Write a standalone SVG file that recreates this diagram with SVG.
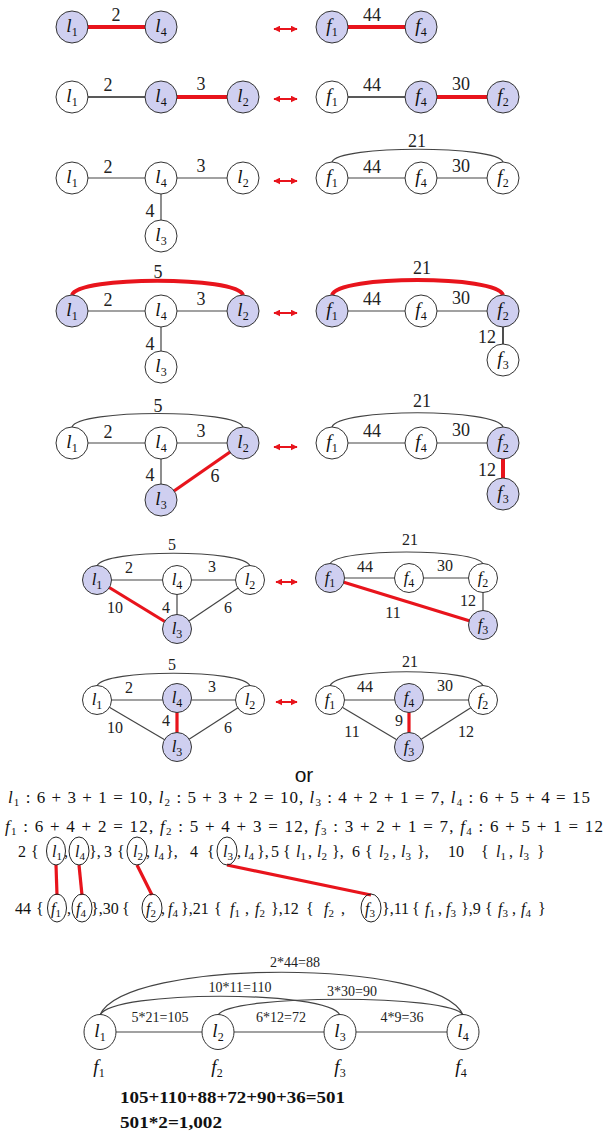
<svg xmlns="http://www.w3.org/2000/svg" width="607" height="1145" viewBox="0 0 607 1145">
<style>
.n{fill:#fff;stroke:#333;stroke-width:1}
.s{fill:#cfcff0}
.t{font-family:"Liberation Serif",serif;font-style:italic;font-size:19px;text-anchor:middle;fill:#111}
.t2{font-family:"Liberation Serif",serif;font-style:italic;font-size:17px;text-anchor:middle;fill:#111}
.sub{font-style:normal;font-size:12px}
.lb{font-family:"Liberation Serif",serif;font-size:18px;text-anchor:middle;fill:#222}
.lb2{font-family:"Liberation Serif",serif;font-size:16px;text-anchor:middle;fill:#222}
.lb3{font-family:"Liberation Serif",serif;font-size:14px;text-anchor:middle;fill:#222}
.e{stroke:#444;stroke-width:1.2;fill:none}
.k{stroke:#222;stroke-width:1.6;fill:none}
.r{stroke:#e8141c;stroke-width:4;fill:none}
.r3{stroke:#e8141c;stroke-width:3.2;fill:none}
.ar{stroke:#e8141c;stroke-width:2;fill:none}
.m{font-family:"Liberation Serif",serif;font-size:17px;fill:#111}
.m2{font-family:"Liberation Serif",serif;font-size:16px;fill:#111}
.i{font-style:italic}
.sb{font-size:11px}
.el{fill:none;stroke:#222;stroke-width:1}
.or{font-family:"Liberation Sans",sans-serif;font-size:21px;text-anchor:middle;fill:#111}
.b{font-family:"Liberation Serif",serif;font-weight:bold;font-size:16px;fill:#111}
</style>
<defs>
<marker id="ah" viewBox="0 0 10 10" refX="9" refY="5" markerWidth="7" markerHeight="7" markerUnits="userSpaceOnUse" orient="auto-start-reverse"><path d="M0,0 L10,5 L0,10 z" fill="#e8141c"/></marker>
</defs>

<g id="connectors">
<line class="r" x1="72" y1="27" x2="161" y2="27"/>
<line class="r" x1="332" y1="27" x2="421" y2="27"/>
<path class="ar" d="M274 29 H297" marker-start="url(#ah)" marker-end="url(#ah)"/>
<line class="k" x1="72" y1="97" x2="161" y2="97"/>
<line class="r" x1="161" y1="97" x2="243" y2="97"/>
<line class="k" x1="332" y1="97" x2="421" y2="97"/>
<line class="r" x1="421" y1="97" x2="503" y2="97"/>
<path class="ar" d="M274 99 H297" marker-start="url(#ah)" marker-end="url(#ah)"/>
<line class="e" x1="72" y1="178" x2="243" y2="178"/>
<line class="e" x1="161" y1="178" x2="161" y2="236"/>
<line class="e" x1="332" y1="178" x2="503" y2="178"/>
<path class="e" d="M332 162 C338 145 497 145 503 162"/>
<path class="ar" d="M274 181 H297" marker-start="url(#ah)" marker-end="url(#ah)"/>
<line class="e" x1="72" y1="311" x2="243" y2="311"/>
<line class="e" x1="161" y1="311" x2="161" y2="367"/>
<path class="r" d="M72 295 C78 276 237 276 243 295"/>
<line class="e" x1="332" y1="311" x2="503" y2="311"/>
<line class="k" x1="503" y1="311" x2="503" y2="360"/>
<path class="r" d="M332 295 C338 275 497 275 503 295"/>
<path class="ar" d="M274 313 H297" marker-start="url(#ah)" marker-end="url(#ah)"/>
<line class="e" x1="72" y1="443" x2="243" y2="443"/>
<line class="e" x1="161" y1="443" x2="161" y2="500"/>
<path class="e" d="M72 427 C78 409 237 409 243 427"/>
<line class="r3" x1="161" y1="500" x2="243" y2="443"/>
<line class="e" x1="332" y1="443" x2="503" y2="443"/>
<path class="e" d="M332 427 C338 408 497 408 503 427"/>
<line class="r" x1="503" y1="443" x2="503" y2="494"/>
<path class="ar" d="M274 447 H297" marker-start="url(#ah)" marker-end="url(#ah)"/>
<line class="e" x1="97" y1="580" x2="250" y2="580"/>
<line class="e" x1="177" y1="580" x2="177" y2="629"/>
<line class="e" x1="177" y1="629" x2="250" y2="580"/>
<path class="e" d="M97 566 C103 549 244 549 250 566"/>
<line class="r3" x1="97" y1="580" x2="177" y2="629"/>
<line class="e" x1="330" y1="578" x2="483" y2="578"/>
<line class="e" x1="483" y1="578" x2="483" y2="625"/>
<path class="e" d="M330 564 C336 548 477 548 483 564"/>
<line class="r3" x1="330" y1="578" x2="483" y2="625"/>
<path class="ar" d="M276 582 H297" marker-start="url(#ah)" marker-end="url(#ah)"/>
<line class="e" x1="97" y1="700" x2="250" y2="700"/>
<line class="e" x1="97" y1="700" x2="177" y2="747"/>
<line class="e" x1="250" y1="700" x2="177" y2="747"/>
<path class="e" d="M97 686 C103 669 244 669 250 686"/>
<line class="r3" x1="177" y1="698" x2="177" y2="747"/>
<line class="e" x1="330" y1="700" x2="483" y2="700"/>
<line class="e" x1="330" y1="700" x2="409" y2="747"/>
<line class="e" x1="483" y1="700" x2="409" y2="747"/>
<path class="e" d="M330 686 C336 667 477 667 483 686"/>
<line class="r3" x1="409" y1="698" x2="409" y2="747"/>
<path class="ar" d="M276 702 H297" marker-start="url(#ah)" marker-end="url(#ah)"/>
<line class="r3" x1="56" y1="865" x2="57" y2="895"/>
<line class="r3" x1="79" y1="865" x2="82" y2="895"/>
<line class="r3" x1="137" y1="865" x2="152" y2="895"/>
<line class="r3" x1="227" y1="865" x2="371" y2="895"/>
<line class="e" x1="100" y1="1032" x2="463" y2="1032"/>
<path class="e" d="M100 1015 C125 958 438 958 463 1015"/>
<path class="e" d="M100 1015 C113 990 328 990 340 1015"/>
<path class="e" d="M218 1015 C230 994 451 994 463 1015"/>
</g>

<g id="row1">
<circle class="n s" cx="72" cy="27" r="16"/><text class="t" x="72" y="32">l<tspan class="sub" dy="4">1</tspan></text>
<circle class="n s" cx="161" cy="27" r="16"/><text class="t" x="161" y="32">l<tspan class="sub" dy="4">4</tspan></text>
<circle class="n s" cx="332" cy="27" r="16"/><text class="t" x="332" y="32">f<tspan class="sub" dy="4">1</tspan></text>
<circle class="n s" cx="421" cy="27" r="16"/><text class="t" x="421" y="32">f<tspan class="sub" dy="4">4</tspan></text>
<text class="lb" x="116" y="21">2</text><text class="lb" x="372" y="21">44</text>
</g>

<g id="row2">
<circle class="n" cx="72" cy="97" r="16"/><text class="t" x="72" y="102">l<tspan class="sub" dy="4">1</tspan></text>
<circle class="n s" cx="161" cy="97" r="16"/><text class="t" x="161" y="102">l<tspan class="sub" dy="4">4</tspan></text>
<circle class="n s" cx="243" cy="97" r="16"/><text class="t" x="243" y="102">l<tspan class="sub" dy="4">2</tspan></text>
<circle class="n" cx="332" cy="97" r="16"/><text class="t" x="332" y="102">f<tspan class="sub" dy="4">1</tspan></text>
<circle class="n s" cx="421" cy="97" r="16"/><text class="t" x="421" y="102">f<tspan class="sub" dy="4">4</tspan></text>
<circle class="n s" cx="503" cy="97" r="16"/><text class="t" x="503" y="102">f<tspan class="sub" dy="4">2</tspan></text>
<text class="lb" x="108" y="91">2</text><text class="lb" x="201" y="90">3</text>
<text class="lb" x="372" y="91">44</text><text class="lb" x="461" y="90">30</text>
</g>

<g id="row3">
<circle class="n" cx="72" cy="178" r="16"/><text class="t" x="72" y="183">l<tspan class="sub" dy="4">1</tspan></text>
<circle class="n" cx="161" cy="178" r="16"/><text class="t" x="161" y="183">l<tspan class="sub" dy="4">4</tspan></text>
<circle class="n" cx="243" cy="178" r="16"/><text class="t" x="243" y="183">l<tspan class="sub" dy="4">2</tspan></text>
<circle class="n" cx="161" cy="236" r="16"/><text class="t" x="161" y="241">l<tspan class="sub" dy="4">3</tspan></text>
<circle class="n" cx="332" cy="178" r="16"/><text class="t" x="332" y="183">f<tspan class="sub" dy="4">1</tspan></text>
<circle class="n" cx="421" cy="178" r="16"/><text class="t" x="421" y="183">f<tspan class="sub" dy="4">4</tspan></text>
<circle class="n" cx="503" cy="178" r="16"/><text class="t" x="503" y="183">f<tspan class="sub" dy="4">2</tspan></text>
<text class="lb" x="108" y="173">2</text><text class="lb" x="201" y="172">3</text><text class="lb" x="150" y="217">4</text>
<text class="lb" x="417" y="147">21</text><text class="lb" x="372" y="173">44</text><text class="lb" x="461" y="172">30</text>
</g>

<g id="row4">
<circle class="n s" cx="72" cy="311" r="16"/><text class="t" x="72" y="316">l<tspan class="sub" dy="4">1</tspan></text>
<circle class="n" cx="161" cy="311" r="16"/><text class="t" x="161" y="316">l<tspan class="sub" dy="4">4</tspan></text>
<circle class="n s" cx="243" cy="311" r="16"/><text class="t" x="243" y="316">l<tspan class="sub" dy="4">2</tspan></text>
<circle class="n" cx="161" cy="367" r="16"/><text class="t" x="161" y="372">l<tspan class="sub" dy="4">3</tspan></text>
<circle class="n s" cx="332" cy="311" r="16"/><text class="t" x="332" y="316">f<tspan class="sub" dy="4">1</tspan></text>
<circle class="n" cx="421" cy="311" r="16"/><text class="t" x="421" y="316">f<tspan class="sub" dy="4">4</tspan></text>
<circle class="n s" cx="503" cy="311" r="16"/><text class="t" x="503" y="316">f<tspan class="sub" dy="4">2</tspan></text>
<circle class="n" cx="503" cy="360" r="16"/><text class="t" x="503" y="365">f<tspan class="sub" dy="4">3</tspan></text>
<text class="lb" x="158" y="278">5</text><text class="lb" x="108" y="306">2</text><text class="lb" x="201" y="305">3</text><text class="lb" x="150" y="350">4</text>
<text class="lb" x="422" y="274">21</text><text class="lb" x="372" y="305">44</text><text class="lb" x="461" y="304">30</text><text class="lb" x="487" y="343">12</text>
</g>

<g id="row5">
<circle class="n" cx="72" cy="443" r="16"/><text class="t" x="72" y="448">l<tspan class="sub" dy="4">1</tspan></text>
<circle class="n" cx="161" cy="443" r="16"/><text class="t" x="161" y="448">l<tspan class="sub" dy="4">4</tspan></text>
<circle class="n s" cx="243" cy="443" r="16"/><text class="t" x="243" y="448">l<tspan class="sub" dy="4">2</tspan></text>
<circle class="n s" cx="161" cy="500" r="16"/><text class="t" x="161" y="505">l<tspan class="sub" dy="4">3</tspan></text>
<circle class="n" cx="332" cy="443" r="16"/><text class="t" x="332" y="448">f<tspan class="sub" dy="4">1</tspan></text>
<circle class="n" cx="421" cy="443" r="16"/><text class="t" x="421" y="448">f<tspan class="sub" dy="4">4</tspan></text>
<circle class="n s" cx="503" cy="443" r="16"/><text class="t" x="503" y="448">f<tspan class="sub" dy="4">2</tspan></text>
<circle class="n s" cx="503" cy="494" r="16"/><text class="t" x="503" y="499">f<tspan class="sub" dy="4">3</tspan></text>
<text class="lb" x="158" y="412">5</text><text class="lb" x="108" y="438">2</text><text class="lb" x="201" y="437">3</text><text class="lb" x="150" y="481">4</text><text class="lb" x="215" y="482">6</text>
<text class="lb" x="422" y="407">21</text><text class="lb" x="372" y="437">44</text><text class="lb" x="461" y="436">30</text><text class="lb" x="487" y="476">12</text>
</g>

<g id="row6">
<circle class="n s" cx="97" cy="580" r="14.5"/><text class="t2" x="97" y="585">l<tspan class="sub" dy="4">1</tspan></text>
<circle class="n" cx="177" cy="580" r="14.5"/><text class="t2" x="177" y="585">l<tspan class="sub" dy="4">4</tspan></text>
<circle class="n" cx="250" cy="580" r="14.5"/><text class="t2" x="250" y="585">l<tspan class="sub" dy="4">2</tspan></text>
<circle class="n s" cx="177" cy="629" r="14.5"/><text class="t2" x="177" y="634">l<tspan class="sub" dy="4">3</tspan></text>
<circle class="n s" cx="330" cy="578" r="14.5"/><text class="t2" x="330" y="583">f<tspan class="sub" dy="4">1</tspan></text>
<circle class="n" cx="409" cy="578" r="14.5"/><text class="t2" x="409" y="583">f<tspan class="sub" dy="4">4</tspan></text>
<circle class="n" cx="483" cy="578" r="14.5"/><text class="t2" x="483" y="583">f<tspan class="sub" dy="4">2</tspan></text>
<circle class="n s" cx="483" cy="625" r="14.5"/><text class="t2" x="483" y="630">f<tspan class="sub" dy="4">3</tspan></text>
<text class="lb2" x="172" y="550">5</text><text class="lb2" x="129" y="573">2</text><text class="lb2" x="212" y="572">3</text>
<text class="lb2" x="115" y="613">10</text><text class="lb2" x="166" y="613">4</text><text class="lb2" x="228" y="613">6</text>
<text class="lb2" x="410" y="545">21</text><text class="lb2" x="365" y="572">44</text><text class="lb2" x="445" y="571">30</text>
<text class="lb2" x="468" y="606">12</text><text class="lb2" x="393" y="618">11</text>
</g>

<g id="row7">
<circle class="n" cx="97" cy="700" r="14.5"/><text class="t2" x="97" y="705">l<tspan class="sub" dy="4">1</tspan></text>
<circle class="n s" cx="177" cy="698" r="14.5"/><text class="t2" x="177" y="703">l<tspan class="sub" dy="4">4</tspan></text>
<circle class="n" cx="250" cy="700" r="14.5"/><text class="t2" x="250" y="705">l<tspan class="sub" dy="4">2</tspan></text>
<circle class="n s" cx="177" cy="747" r="14.5"/><text class="t2" x="177" y="752">l<tspan class="sub" dy="4">3</tspan></text>
<circle class="n" cx="330" cy="700" r="14.5"/><text class="t2" x="330" y="705">f<tspan class="sub" dy="4">1</tspan></text>
<circle class="n s" cx="409" cy="698" r="14.5"/><text class="t2" x="409" y="703">f<tspan class="sub" dy="4">4</tspan></text>
<circle class="n" cx="483" cy="700" r="14.5"/><text class="t2" x="483" y="705">f<tspan class="sub" dy="4">2</tspan></text>
<circle class="n s" cx="409" cy="747" r="14.5"/><text class="t2" x="409" y="752">f<tspan class="sub" dy="4">3</tspan></text>
<text class="lb2" x="172" y="670">5</text><text class="lb2" x="129" y="693">2</text><text class="lb2" x="212" y="692">3</text>
<text class="lb2" x="115" y="733">10</text><text class="lb2" x="166" y="726">4</text><text class="lb2" x="228" y="733">6</text>
<text class="lb2" x="410" y="667">21</text><text class="lb2" x="365" y="692">44</text><text class="lb2" x="445" y="691">30</text>
<text class="lb2" x="399" y="726">9</text><text class="lb2" x="352" y="737">11</text><text class="lb2" x="466" y="737">12</text>
</g>

<g id="text-block">
<text class="or" x="304" y="782">or</text>
<text class="m" x="8" y="803" textLength="582" lengthAdjust="spacing"><tspan class="i">l</tspan><tspan class="sb" dy="3">1</tspan><tspan dy="-3"> : 6 + 3 + 1 = 10, </tspan><tspan class="i">l</tspan><tspan class="sb" dy="3">2</tspan><tspan dy="-3"> : 5 + 3 + 2 = 10, </tspan><tspan class="i">l</tspan><tspan class="sb" dy="3">3</tspan><tspan dy="-3"> : 4 + 2 + 1 = 7, </tspan><tspan class="i">l</tspan><tspan class="sb" dy="3">4</tspan><tspan dy="-3"> : 6 + 5 + 4 = 15</tspan></text>
<text class="m" x="5" y="832" textLength="598" lengthAdjust="spacing"><tspan class="i">f</tspan><tspan class="sb" dy="3">1</tspan><tspan dy="-3"> : 6 + 4 + 2 = 12, </tspan><tspan class="i">f</tspan><tspan class="sb" dy="3">2</tspan><tspan dy="-3"> : 5 + 4 + 3 = 12, </tspan><tspan class="i">f</tspan><tspan class="sb" dy="3">3</tspan><tspan dy="-3"> : 3 + 2 + 1 = 7, </tspan><tspan class="i">f</tspan><tspan class="sb" dy="3">4</tspan><tspan dy="-3"> : 6 + 5 + 1 = 12</tspan></text>

<text class="m2" y="857"><tspan x="18">2</tspan><tspan x="31">{</tspan><tspan x="52" class="i">l</tspan><tspan class="sb" dy="3">1</tspan><tspan x="64" dy="-3">,</tspan><tspan x="75" class="i">l</tspan><tspan class="sb" dy="3">4</tspan><tspan x="89" dy="-3">},</tspan><tspan x="104">3</tspan><tspan x="117">{</tspan><tspan x="133" class="i">l</tspan><tspan class="sb" dy="3">2</tspan><tspan x="146" dy="-3">,</tspan><tspan x="154" class="i">l</tspan><tspan class="sb" dy="3">4</tspan><tspan x="166" dy="-3">},</tspan><tspan x="190">4</tspan><tspan x="207">{</tspan><tspan x="223" class="i">l</tspan><tspan class="sb" dy="3">3</tspan><tspan x="237" dy="-3">,</tspan><tspan x="244" class="i">l</tspan><tspan class="sb" dy="3">4</tspan><tspan x="257" dy="-3">},</tspan><tspan x="271">5</tspan><tspan x="283">{</tspan><tspan x="296" class="i">l</tspan><tspan class="sb" dy="3">1</tspan><tspan x="308" dy="-3">,</tspan><tspan x="317" class="i">l</tspan><tspan class="sb" dy="3">2</tspan><tspan x="332" dy="-3">},</tspan><tspan x="352">6</tspan><tspan x="365">{</tspan><tspan x="379" class="i">l</tspan><tspan class="sb" dy="3">2</tspan><tspan x="392" dy="-3">,</tspan><tspan x="401" class="i">l</tspan><tspan class="sb" dy="3">3</tspan><tspan x="417" dy="-3">},</tspan><tspan x="448">10</tspan><tspan x="481">{</tspan><tspan x="496" class="i">l</tspan><tspan class="sb" dy="3">1</tspan><tspan x="509" dy="-3">,</tspan><tspan x="519" class="i">l</tspan><tspan class="sb" dy="3">3</tspan><tspan x="537" dy="-3">}</tspan></text>
<ellipse class="el" cx="56" cy="851" rx="9.5" ry="14"/>
<ellipse class="el" cx="79" cy="851" rx="10" ry="14"/>
<ellipse class="el" cx="137" cy="851" rx="10" ry="14"/>
<ellipse class="el" cx="227" cy="851" rx="10" ry="14"/>

<text class="m2" y="914"><tspan x="15">44</tspan><tspan x="36">{</tspan><tspan x="51" class="i">f</tspan><tspan class="sb" dy="3">1</tspan><tspan x="67" dy="-3">,</tspan><tspan x="76" class="i">f</tspan><tspan class="sb" dy="3">4</tspan><tspan x="91" dy="-3">},30</tspan><tspan x="122">{</tspan><tspan x="146" class="i">f</tspan><tspan class="sb" dy="3">2</tspan><tspan x="161" dy="-3">,</tspan><tspan x="168" class="i">f</tspan><tspan class="sb" dy="3">4</tspan><tspan x="181" dy="-3">},21</tspan><tspan x="214">{</tspan><tspan x="230" class="i">f</tspan><tspan class="sb" dy="3">1</tspan><tspan x="245" dy="-3">,</tspan><tspan x="255" class="i">f</tspan><tspan class="sb" dy="3">2</tspan><tspan x="271" dy="-3">},12</tspan><tspan x="306">{</tspan><tspan x="324" class="i">f</tspan><tspan class="sb" dy="3">2</tspan><tspan x="341" dy="-3">,</tspan><tspan x="365" class="i">f</tspan><tspan class="sb" dy="3">3</tspan><tspan x="382" dy="-3">},11</tspan><tspan x="412">{</tspan><tspan x="425" class="i">f</tspan><tspan class="sb" dy="3">1</tspan><tspan x="438" dy="-3">,</tspan><tspan x="446" class="i">f</tspan><tspan class="sb" dy="3">3</tspan><tspan x="461" dy="-3">},9</tspan><tspan x="485">{</tspan><tspan x="498" class="i">f</tspan><tspan class="sb" dy="3">3</tspan><tspan x="512" dy="-3">,</tspan><tspan x="521" class="i">f</tspan><tspan class="sb" dy="3">4</tspan><tspan x="538" dy="-3">}</tspan></text>
<ellipse class="el" cx="57" cy="908" rx="9.5" ry="14"/>
<ellipse class="el" cx="82" cy="908" rx="10" ry="14"/>
<ellipse class="el" cx="152" cy="908" rx="10" ry="14"/>
<ellipse class="el" cx="371" cy="908" rx="10" ry="14"/>
</g>

<g id="bottom-graph">
<ellipse class="n" cx="100" cy="1032" rx="16" ry="17.5"/><text class="t" x="100" y="1037">l<tspan class="sub" dy="4">1</tspan></text>
<ellipse class="n" cx="218" cy="1032" rx="16" ry="17.5"/><text class="t" x="218" y="1037">l<tspan class="sub" dy="4">2</tspan></text>
<ellipse class="n" cx="340" cy="1032" rx="16" ry="17.5"/><text class="t" x="340" y="1037">l<tspan class="sub" dy="4">3</tspan></text>
<ellipse class="n" cx="463" cy="1032" rx="16" ry="17.5"/><text class="t" x="463" y="1037">l<tspan class="sub" dy="4">4</tspan></text>
<text class="t" x="99" y="1073">f<tspan class="sub" dy="4">1</tspan></text>
<text class="t" x="217" y="1073">f<tspan class="sub" dy="4">2</tspan></text>
<text class="t" x="340" y="1073">f<tspan class="sub" dy="4">3</tspan></text>
<text class="t" x="461" y="1073">f<tspan class="sub" dy="4">4</tspan></text>
<text class="lb3" x="160" y="1022">5*21=105</text>
<text class="lb3" x="281" y="1022">6*12=72</text>
<text class="lb3" x="402" y="1022">4*9=36</text>
<text class="lb3" x="295" y="967">2*44=88</text>
<text class="lb3" x="240" y="992">10*11=110</text>
<text class="lb3" x="352" y="996">3*30=90</text>
<text class="b" x="120" y="1103" textLength="225" lengthAdjust="spacingAndGlyphs">105+110+88+72+90+36=501</text>
<text class="b" x="120" y="1128" textLength="102" lengthAdjust="spacingAndGlyphs">501*2=1,002</text>
</g>
</svg>
